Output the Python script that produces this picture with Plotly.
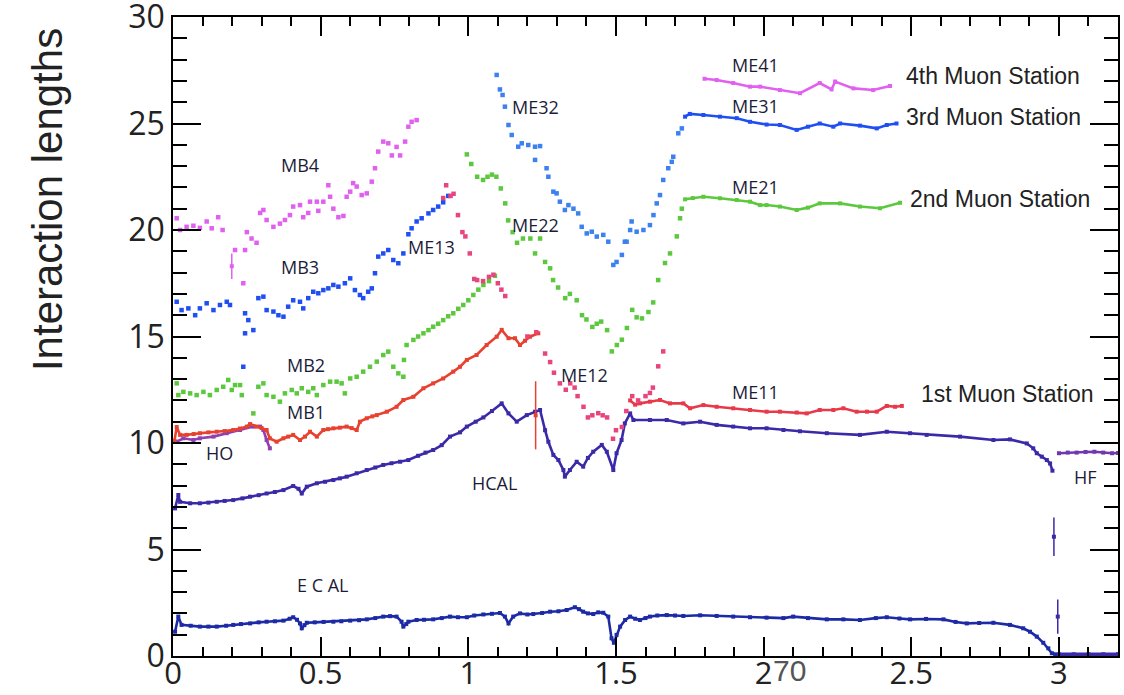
import plotly.graph_objects as go

# ---------------- data (eta, interaction lengths) ----------------
ecal_x = [0.007,0.018,0.029,0.06,0.091,0.12,0.148,0.18,0.204,0.23,0.261,0.29,0.317,0.345,0.374,0.395,0.407,0.42,0.43,0.436,0.445,0.453,0.48,0.51,0.543,0.57,0.6,0.63,0.656,0.685,0.712,0.735,0.757,0.774,0.78,0.79,0.797,0.825,0.85,0.881,0.91,0.938,0.965,0.995,1.02,1.051,1.08,1.107,1.124,1.136,1.152,1.175,1.2,1.22,1.25,1.277,1.305,1.333,1.361,1.375,1.389,1.405,1.423,1.44,1.457,1.474,1.485,1.493,1.502,1.514,1.531,1.548,1.565,1.581,1.6,1.615,1.64,1.672,1.7,1.728,1.785,1.841,1.897,1.954,2.01,2.067,2.1,2.15,2.214,2.27,2.326,2.38,2.417,2.46,2.496,2.55,2.609,2.65,2.688,2.73,2.778,2.834,2.879,2.902,2.925,2.947,2.964,2.976,2.987]
ecal_y = [1.14,1.85,1.46,1.42,1.38,1.38,1.38,1.42,1.46,1.5,1.53,1.58,1.61,1.63,1.66,1.75,1.82,1.7,1.53,1.3,1.45,1.56,1.58,1.6,1.61,1.63,1.66,1.68,1.72,1.78,1.85,1.87,1.85,1.61,1.38,1.5,1.61,1.69,1.7,1.72,1.78,1.85,1.82,1.82,1.9,1.95,1.98,2.02,1.85,1.53,1.85,2.0,1.95,1.97,2.02,2.08,2.1,2.16,2.29,2.2,2.08,2.0,1.97,2.05,2.03,1.85,0.83,0.62,0.99,1.38,1.69,1.85,1.75,1.69,1.78,1.85,1.9,1.92,1.9,1.88,1.91,1.88,1.85,1.82,1.8,1.78,1.85,1.78,1.72,1.72,1.69,1.78,1.82,1.76,1.72,1.74,1.72,1.6,1.53,1.55,1.56,1.46,1.3,1.14,0.91,0.62,0.36,0.13,0.08]
ecal_fwd_x = [3.0,3.05,3.1,3.15,3.2]
ecal_fwd_y = [0.08,0.08,0.08,0.08,0.08]

hcal_x = [0.007,0.018,0.024,0.058,0.091,0.12,0.148,0.175,0.204,0.235,0.261,0.29,0.317,0.345,0.374,0.407,0.425,0.436,0.453,0.487,0.515,0.543,0.565,0.588,0.622,0.656,0.685,0.712,0.74,0.769,0.797,0.83,0.855,0.881,0.91,0.938,0.972,0.995,1.025,1.051,1.08,1.113,1.136,1.164,1.198,1.226,1.243,1.26,1.271,1.288,1.305,1.322,1.327,1.344,1.367,1.389,1.405,1.423,1.452,1.469,1.491,1.502,1.519,1.53,1.548,1.559,1.615,1.672,1.728,1.785,1.841,1.897,1.954,2.01,2.067,2.123,2.214,2.326,2.417,2.496,2.552,2.665,2.778,2.834,2.891,2.913,2.925,2.942,2.959,2.97,2.978]
hcal_y = [6.93,7.56,7.24,7.17,7.17,7.2,7.24,7.28,7.32,7.4,7.48,7.55,7.63,7.7,7.79,7.98,7.85,7.63,7.95,8.11,8.18,8.26,8.34,8.42,8.58,8.73,8.85,8.97,9.05,9.12,9.2,9.4,9.55,9.67,9.9,10.3,10.5,10.77,11.0,11.2,11.5,11.86,11.39,11.0,11.31,11.47,11.55,10.6,10.06,9.44,9.2,8.73,8.42,8.73,9.12,8.89,9.3,9.59,9.91,9.59,8.73,9.52,10.14,10.92,11.39,11.08,11.08,11.08,10.92,11.0,10.85,10.77,10.69,10.69,10.61,10.55,10.46,10.38,10.53,10.46,10.38,10.3,10.14,10.17,9.98,9.75,9.52,9.36,9.2,9.04,8.7]
hcal_err_x = [2.983, 2.996]
hcal_err_y = [5.6, 1.85]
hcal_err = [0.9, 0.8]

hf_x = [3.0,3.03,3.06,3.09,3.12,3.15,3.18,3.2]
hf_y = [9.52,9.55,9.55,9.58,9.59,9.55,9.52,9.53]

ho_x = [0.0125,0.035,0.069,0.091,0.137,0.182,0.227,0.272,0.295,0.306,0.317,0.328]
ho_y = [10.06,10.22,10.14,10.22,10.3,10.46,10.61,10.77,10.77,10.61,10.14,9.75]

mb1_x = [0.005,0.0125,0.024,0.046,0.07,0.091,0.12,0.148,0.175,0.204,0.227,0.25,0.261,0.283,0.3,0.317,0.328,0.351,0.374,0.39,0.407,0.43,0.447,0.464,0.487,0.509,0.525,0.543,0.565,0.588,0.605,0.622,0.633,0.656,0.675,0.69,0.724,0.757,0.78,0.814,0.848,0.881,0.915,0.949,0.972,0.995,1.028,1.062,1.096,1.113,1.136,1.158,1.175,1.192,1.209,1.237]
mb1_y = [10.1,10.75,10.38,10.38,10.42,10.46,10.5,10.53,10.56,10.61,10.68,10.77,10.89,10.77,10.7,10.61,10.22,10.06,10.22,10.3,10.38,10.14,10.3,10.53,10.3,10.61,10.65,10.69,10.72,10.77,10.7,10.61,11.0,11.16,11.25,11.31,11.47,11.7,12.02,12.17,12.57,12.8,13.03,13.35,13.58,13.9,14.13,14.6,14.99,15.31,14.92,14.92,14.6,14.8,14.99,15.15]
mb1_err_x = [1.228]
mb1_err_y = [11.3]
mb1_err = [1.6]

me11_x = [1.548,1.565,1.581,1.615,1.649,1.683,1.728,1.751,1.796,1.841,1.897,1.954,2.01,2.055,2.112,2.146,2.19,2.236,2.27,2.315,2.35,2.383,2.417,2.445,2.468]
me11_y = [12.0,11.8,11.86,11.94,12.02,11.86,11.86,11.63,11.78,11.7,11.63,11.55,11.47,11.47,11.43,11.39,11.55,11.55,11.63,11.47,11.47,11.47,11.74,11.7,11.74]

me12_x = [1.2,1.23,1.26,1.277,1.29,1.31,1.33,1.345,1.36,1.37,1.39,1.405,1.42,1.44,1.455,1.47,1.49,1.5,1.52,1.535,1.555,1.575,1.6,1.615,1.625,1.643,1.66]
me12_y = [15.0,15.2,14.2,13.8,13.3,12.8,12.5,12.8,12.6,12.2,11.7,11.2,11.3,11.4,11.3,11.2,10.2,10.6,10.75,11.5,12.2,12.0,12.2,12.35,12.6,13.6,14.3]

me13p_x = [0.915,0.925,0.94,0.95,0.965,0.98,0.99,1.005,1.02,1.03,1.05,1.07,1.085,1.1,1.112,1.125]
me13p_y = [21.5,22.1,21.6,21.7,20.7,19.9,19.7,18.9,17.7,17.65,17.6,17.8,17.9,17.5,17.2,16.9]

mb2_x = [0.0125,0.018,0.035,0.058,0.08,0.103,0.125,0.148,0.17,0.187,0.199,0.21,0.227,0.233,0.272,0.289,0.306,0.317,0.34,0.362,0.379,0.402,0.419,0.436,0.458,0.475,0.487,0.509,0.532,0.554,0.571,0.582,0.6,0.622,0.644,0.667,0.69,0.712,0.729,0.746,0.763,0.78,0.782,0.791,0.814,0.83,0.848,0.865,0.881,0.898,0.915,0.932,0.949,0.966,0.983,1.0,1.017,1.034,1.051,1.07,1.09]
mb2_y = [12.8,12.25,12.4,12.33,12.25,12.4,12.25,12.49,12.64,12.96,12.49,12.72,12.72,12.25,11.39,12.64,12.8,12.25,12.17,11.94,12.33,12.49,12.33,12.57,12.4,12.57,12.25,12.72,12.88,12.88,12.8,12.33,13.03,13.11,13.35,13.58,13.82,14.13,14.29,13.58,13.27,13.11,13.9,14.6,14.84,15.0,15.15,15.3,15.46,15.6,15.77,15.95,16.09,16.3,16.48,16.7,16.95,17.2,17.42,17.6,17.85]

me22_x = [0.995,1.01,1.03,1.05,1.065,1.08,1.095,1.11,1.125,1.135,1.15,1.165,1.185,1.21,1.226,1.243,1.26,1.277,1.287,1.304,1.328,1.344,1.367,1.385,1.4,1.42,1.435,1.45,1.47,1.486,1.503,1.52,1.537,1.555,1.57,1.588,1.61,1.626,1.643,1.666,1.683,1.706,1.717,1.723]
me22_y = [23.55,23.1,22.5,22.35,22.5,22.6,22.5,21.95,21.25,20.45,19.9,19.4,19.6,19.6,18.9,19.6,18.5,18.2,17.65,17.3,16.8,17.0,16.7,16.0,15.8,15.45,15.6,15.7,15.3,14.3,14.6,14.85,15.4,16.25,15.9,15.85,16.15,16.6,17.65,18.45,18.9,19.7,20.55,21.0]

me21_x = [1.734,1.76,1.796,1.852,1.909,1.954,1.988,2.01,2.055,2.112,2.15,2.19,2.259,2.326,2.394,2.462]
me21_y = [21.44,21.5,21.56,21.49,21.41,21.33,21.17,21.17,21.1,20.94,21.05,21.25,21.25,21.1,21.02,21.28]

mb3_x = [0.0125,0.029,0.052,0.075,0.091,0.114,0.137,0.159,0.182,0.193,0.238,0.244,0.244,0.255,0.272,0.289,0.306,0.317,0.34,0.357,0.374,0.39,0.407,0.43,0.441,0.458,0.475,0.492,0.509,0.526,0.543,0.56,0.582,0.6,0.616,0.633,0.644,0.661,0.673,0.684,0.695,0.712,0.729,0.746,0.763,0.78,0.797,0.808,0.825,0.842,0.865,0.881,0.898,0.915,0.932]
mb3_y = [16.63,16.24,16.32,16.0,16.32,16.56,16.24,16.48,16.63,16.48,13.58,15.15,16.09,15.77,15.3,16.8,16.87,16.24,16.17,16.0,15.93,16.4,16.7,16.63,16.32,16.8,17.1,17.03,17.18,17.26,17.42,17.34,17.5,17.73,17.18,16.95,16.8,17.1,17.26,17.97,18.75,18.9,19.06,18.59,18.44,18.9,19.8,20.08,20.4,20.55,20.78,20.94,21.1,21.3,21.6]

me32_x = [1.096,1.107,1.116,1.124,1.136,1.147,1.169,1.181,1.203,1.226,1.243,1.226,1.265,1.271,1.288,1.299,1.31,1.327,1.339,1.356,1.372,1.384,1.401,1.418,1.435,1.457,1.474,1.491,1.502,1.52,1.53,1.536,1.548,1.553,1.57,1.593,1.615,1.627,1.638,1.649,1.66,1.677,1.689,1.694,1.711,1.723]
me32_y = [27.28,26.6,26.34,25.79,24.93,24.46,23.91,24.07,23.99,23.91,23.94,23.29,22.9,22.5,21.8,21.72,21.33,20.94,21.17,21.0,20.78,20.15,19.84,19.92,19.69,19.77,19.45,18.36,18.5,18.83,19.45,19.45,20.0,20.4,19.92,20.0,20.23,20.7,21.25,21.64,22.35,22.9,23.2,23.44,24.54,24.77]

me31_x = [1.734,1.75,1.796,1.852,1.909,1.954,2.01,2.055,2.112,2.15,2.19,2.236,2.259,2.326,2.383,2.417,2.45]
me31_y = [25.32,25.45,25.4,25.32,25.25,25.08,24.95,24.93,24.7,24.85,25.0,24.85,25.0,24.9,24.77,24.93,25.0]

mb4_x = [0.0125,0.024,0.046,0.069,0.091,0.114,0.131,0.153,0.168,0.21,0.238,0.244,0.25,0.266,0.283,0.295,0.306,0.317,0.34,0.362,0.379,0.396,0.407,0.43,0.441,0.458,0.464,0.487,0.492,0.509,0.526,0.532,0.543,0.56,0.577,0.588,0.6,0.61,0.622,0.639,0.656,0.673,0.684,0.695,0.712,0.729,0.741,0.757,0.769,0.786,0.797,0.808,0.825]
mb4_y = [20.55,20.0,20.15,20.2,20.1,20.4,20.08,20.6,20.0,19.06,17.5,19.06,19.9,19.6,19.4,20.8,20.94,20.47,20.15,20.3,20.47,20.7,21.1,21.17,20.6,20.8,21.33,21.33,20.9,21.33,22.1,21.56,21.0,20.6,20.66,21.56,21.8,22.2,22.04,21.64,21.72,22.27,22.9,23.68,24.15,24.07,23.5,23.9,23.5,24.15,24.85,25.08,25.16]
mb4_err_x = [0.199]
mb4_err_y = [18.3]
mb4_err = [0.6]

me41_x = [1.8,1.841,1.897,1.954,1.988,2.055,2.123,2.19,2.23,2.242,2.304,2.371,2.428]
me41_y = [27.1,27.04,26.9,26.73,26.73,26.57,26.42,26.9,26.6,26.97,26.65,26.57,26.76]

# labels: (text, x, y)
small_labels = [("MB4",0.43,23.05),("MB3",0.43,18.26),("ME13",0.877,19.2),("MB2",0.45,13.66),
                ("MB1",0.45,11.46),("HO",0.156,9.53),("HCAL",1.087,8.12),("E C AL",0.505,3.33),
                ("ME32",1.226,25.77),("ME22",1.226,20.23),("ME12",1.395,13.19),("ME41",1.974,27.75),
                ("ME31",1.974,25.82),("ME21",1.974,22.0),("ME11",1.974,12.39),("HF",3.09,8.4)]
station_labels = [("4th Muon Station",2.777,27.23),("3rd Muon Station",2.777,25.3),
                  ("2nd Muon Station",2.80,21.46),("1st Muon Station",2.825,12.3)]

# ---------------- figure ----------------
C_MAG = "#e160f0"; C_BLUE = "#1f4ff2"; C_LBLUE = "#3d80f0"; C_GREEN = "#5cc83e"
C_RED = "#e8412f"; C_RED2 = "#e8394a"; C_PINK = "#e8457f"; C_HO = "#9040b0"
C_HCAL = "#3b2aa8"; C_HF = "#7038b0"; C_ECAL = "#1c2aa6"

fig = go.Figure()

def pts(x, y, color, size=4.5):
    fig.add_trace(go.Scatter(x=x, y=y, mode="markers", showlegend=False,
                             marker=dict(symbol="square", size=size, color=color, line=dict(width=0))))

def curve(x, y, color, width=2.6, size=4):
    fig.add_trace(go.Scatter(x=x, y=y, mode="lines+markers", showlegend=False,
                             line=dict(color=color, width=width),
                             marker=dict(symbol="square", size=size, color=color, line=dict(width=0))))

def errpts(x, y, e, color):
    fig.add_trace(go.Scatter(x=x, y=y, mode="markers", showlegend=False,
                             marker=dict(symbol="square", size=4, color=color),
                             error_y=dict(type="data", array=e, color=color, thickness=1.5, width=0)))

curve(ecal_x, ecal_y, C_ECAL)
curve(ecal_fwd_x, ecal_fwd_y, C_HCAL, width=3.5)
curve(hcal_x, hcal_y, C_HCAL)
errpts(hcal_err_x, hcal_err_y, hcal_err, C_HCAL)
curve(hf_x, hf_y, C_HF)
curve(ho_x, ho_y, C_HO)
curve(mb1_x, mb1_y, C_RED)
errpts(mb1_err_x, mb1_err_y, mb1_err, C_RED)
curve(me11_x, me11_y, C_RED2)
pts(me12_x, me12_y, C_PINK)
pts(mb2_x, mb2_y, C_GREEN)
pts(me22_x, me22_y, C_GREEN)
curve(me21_x, me21_y, C_GREEN)
pts(mb3_x, mb3_y, C_BLUE)
pts(me13p_x, me13p_y, C_PINK)
pts(me32_x, me32_y, C_LBLUE)
curve(me31_x, me31_y, C_BLUE)
pts(mb4_x, mb4_y, C_MAG)
errpts(mb4_err_x, mb4_err_y, mb4_err, C_MAG)
curve(me41_x, me41_y, C_MAG)

for t, x, y in small_labels:
    fig.add_annotation(x=x, y=y, text=t, showarrow=False, xanchor="center", yanchor="middle",
                       font=dict(family="Open Sans", size=18, color="#1c1c3a"))
for t, x, y in station_labels:
    fig.add_annotation(x=x, y=y, text=t, showarrow=False, xanchor="center", yanchor="middle",
                       font=dict(family="Liberation Sans", size=23, color="#222222"))

# y title and stray page number
fig.add_annotation(xref="paper", yref="paper", x=-0.133, y=0.714, text="Interaction lengths",
                   textangle=-90, showarrow=False, xanchor="center", yanchor="middle",
                   font=dict(family="Liberation Sans", size=42, color="#222222"))
fig.add_annotation(xref="paper", yref="paper", x=0.652, y=-0.022, text="70", showarrow=False,
                   xanchor="center", yanchor="middle",
                   font=dict(family="Liberation Sans", size=30, color="#555555"))

axis_common = dict(showgrid=False, zeroline=False, showline=True, linecolor="black", linewidth=1.5,
                   mirror="ticks", ticks="inside", tickcolor="black", tickwidth=1.5,
                   automargin=False, ticklabeloverflow="allow")
fig.update_xaxes(range=[0, 3.2], dtick=0.5, tick0=0, ticklen=19, ticklabelstandoff=-11,
                 tickfont=dict(family="Open Sans", size=31, color="#222222"),
                 minor=dict(dtick=0.1, ticklen=9, ticks="inside", tickcolor="black", tickwidth=1.5),
                 **axis_common)
fig.update_yaxes(range=[0, 30], dtick=5, tick0=0, ticklen=28,
                 tickfont=dict(family="Open Sans", size=32, color="#222222"),
                 minor=dict(dtick=1, ticklen=14, ticks="inside", tickcolor="black", tickwidth=1.5),
                 **axis_common)

fig.update_layout(width=1124, height=695, margin=dict(l=173, r=6, t=17, b=39),
                  paper_bgcolor="white", plot_bgcolor="white", showlegend=False)

# remove the default page margin so the figure sits at the window origin
fig.write_html("out.html", config={"displayModeBar": False},
               post_script="document.body.style.margin='0';")
